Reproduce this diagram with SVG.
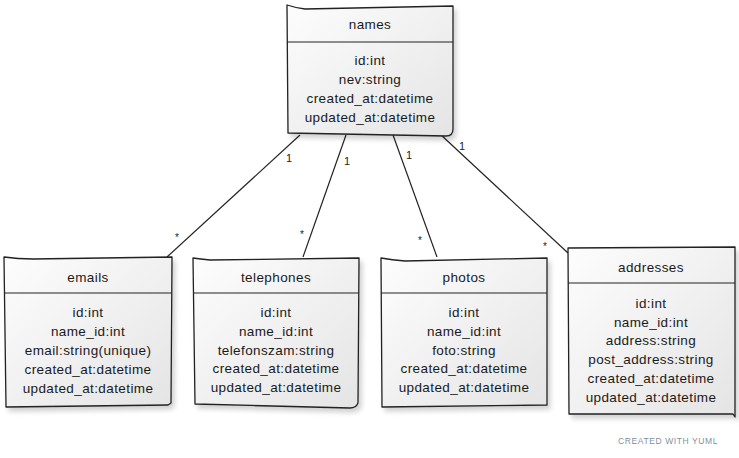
<svg xmlns="http://www.w3.org/2000/svg" width="739" height="458" viewBox="0 0 739 458">
  <defs>
    <linearGradient id="boxfill" x1="0" y1="0" x2="1" y2="1">
      <stop offset="0" stop-color="#fdfdfd"/>
      <stop offset="1" stop-color="#e4e4e4"/>
    </linearGradient>
    <filter id="shadow" x="-10%" y="-10%" width="130%" height="130%">
      <feGaussianBlur in="SourceAlpha" stdDeviation="2.5"/>
      <feOffset dx="3" dy="4" result="b"/>
      <feComponentTransfer><feFuncA type="linear" slope="0.18"/></feComponentTransfer>
      <feMerge><feMergeNode/><feMergeNode in="SourceGraphic"/></feMerge>
    </filter>
  </defs>
  <style>
    .box { fill: url(#boxfill); stroke: #222; stroke-width: 1.3; stroke-linejoin: round; filter: url(#shadow); }
    .div { stroke: #222; stroke-width: 1.2; fill: none; }
    .t { font-family: "Liberation Sans", Arial, sans-serif; font-size: 13.5px; letter-spacing: 0.4px; fill: #1a1a1a; text-anchor: middle; }
    .edge { stroke: #222; stroke-width: 1.2; fill: none; }
    .lbl { font-family: "Liberation Sans", Arial, sans-serif; font-size: 11px; fill: #222; text-anchor: middle; }
    .star { font-family: "Liberation Sans", Arial, sans-serif; font-size: 10px; fill: #222; text-anchor: middle; }
    .credit { font-family: "Liberation Sans", Arial, sans-serif; font-size: 8.5px; letter-spacing: 0.6px; fill: #7f8fa0; }
  </style>
  <rect width="739" height="458" fill="#ffffff"/>

  <g id="connectors">
    <line class="edge" x1="300" y1="135" x2="167" y2="257"/>
    <line class="edge" x1="346" y1="135" x2="303" y2="257"/>
    <line class="edge" x1="393" y1="135" x2="437" y2="257"/>
    <line class="edge" x1="440" y1="134" x2="568" y2="253"/>
    <text class="lbl" x="289" y="162">1</text>
    <text class="star" x="177" y="241">*</text>
    <text class="lbl" x="347" y="165">1</text>
    <text class="star" x="302" y="238">*</text>
    <text class="lbl" x="409" y="159">1</text>
    <text class="star" x="420" y="244">*</text>
    <text class="lbl" x="462" y="150">1</text>
    <text class="star" x="545" y="250">*</text>
  </g>

  <g id="names">
    <path class="box" d="M287,5 Q296,8 305,9 L453,6 L453,129 Q453,136 446,136 L288,133 Z"/>
    <line class="div" x1="287" y1="42" x2="453" y2="42"/>
    <text class="t" x="370" y="29">names</text>
    <text class="t" x="370" y="65">id:int</text>
    <text class="t" x="370" y="84">nev:string</text>
    <text class="t" x="370" y="103">created_at:datetime</text>
    <text class="t" x="370" y="122">updated_at:datetime</text>
  </g>

  <g id="emails">
    <path class="box" d="M4,257 Q18,259 33,259 L172,257 L171,403 L168,405 L6,407 L5,332 Z"/>
    <line class="div" x1="4" y1="293" x2="172" y2="293"/>
    <text class="t" x="88" y="282">emails</text>
    <text class="t" x="88" y="317">id:int</text>
    <text class="t" x="88" y="336">name_id:int</text>
    <text class="t" x="88" y="355">email:string(unique)</text>
    <text class="t" x="88" y="374">created_at:datetime</text>
    <text class="t" x="88" y="393">updated_at:datetime</text>
  </g>

  <g id="telephones">
    <path class="box" d="M193,258 Q200,259 210,260 L359,258 L358,403 Q356,408 350,408 L195,404 Z"/>
    <line class="div" x1="193" y1="293" x2="359" y2="293"/>
    <text class="t" x="276" y="282">telephones</text>
    <text class="t" x="276" y="317">id:int</text>
    <text class="t" x="276" y="336">name_id:int</text>
    <text class="t" x="276" y="355">telefonszam:string</text>
    <text class="t" x="276" y="373">created_at:datetime</text>
    <text class="t" x="276" y="392">updated_at:datetime</text>
  </g>

  <g id="photos">
    <path class="box" d="M381,258 Q392,260 405,261 L547,258 L547,405 L382,407 Z"/>
    <line class="div" x1="381" y1="293" x2="547" y2="293"/>
    <text class="t" x="464" y="282">photos</text>
    <text class="t" x="464" y="317">id:int</text>
    <text class="t" x="464" y="336">name_id:int</text>
    <text class="t" x="464" y="355">foto:string</text>
    <text class="t" x="464" y="373">created_at:datetime</text>
    <text class="t" x="464" y="392">updated_at:datetime</text>
  </g>

  <g id="addresses">
    <path class="box" d="M568,248 L735,247 L735,417 L733,414 L569,414 Z"/>
    <line class="div" x1="568" y1="283" x2="735" y2="283"/>
    <text class="t" x="651" y="272">addresses</text>
    <text class="t" x="651" y="308">id:int</text>
    <text class="t" x="651" y="327">name_id:int</text>
    <text class="t" x="651" y="345">address:string</text>
    <text class="t" x="651" y="364">post_address:string</text>
    <text class="t" x="651" y="383">created_at:datetime</text>
    <text class="t" x="651" y="402">updated_at:datetime</text>
  </g>

  <text class="credit" x="618" y="444">CREATED WITH YUML</text>
</svg>
